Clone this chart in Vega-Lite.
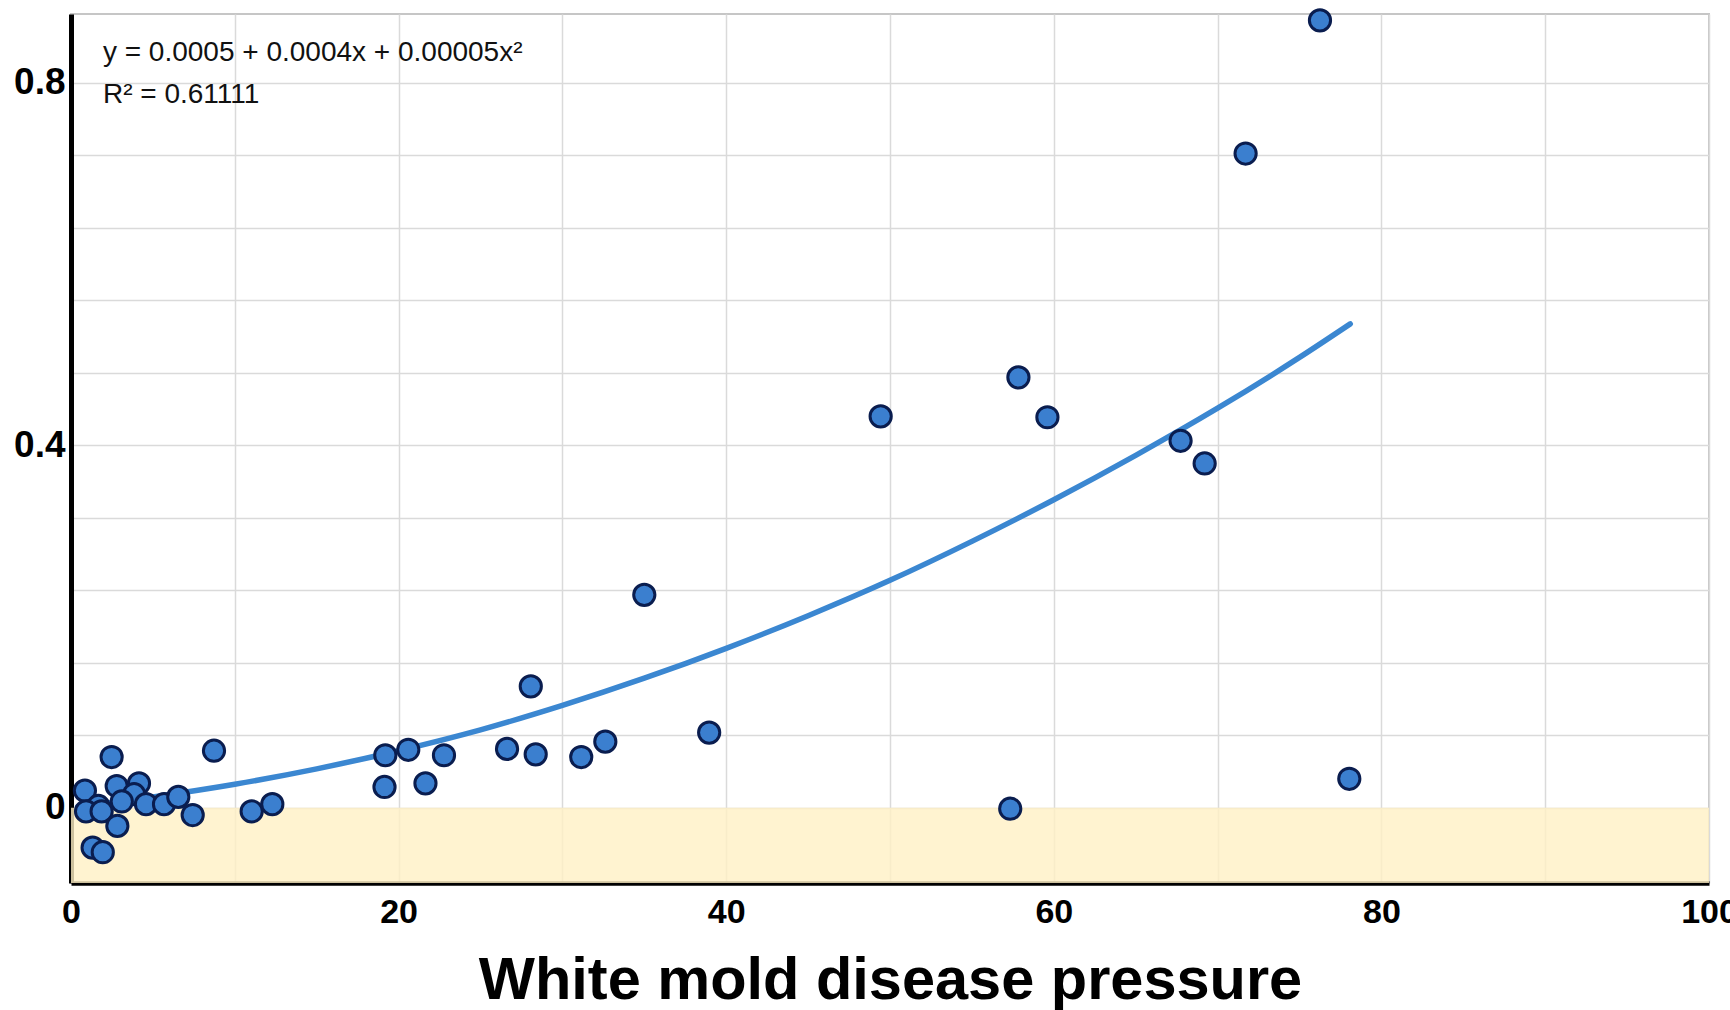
{
  "$schema": "https://vega.github.io/schema/vega-lite/v6.json",
  "width": 1638,
  "height": 869,
  "autosize": {"type": "none"},
  "padding": {"left": 71, "top": 14, "right": 21, "bottom": 127},
  "background": "white",
  "config": {"view": {"stroke": "#c6c6c6", "strokeWidth": 2}, "font": "Liberation Sans"},
  "datasets": {
    "band": [{"x": 0, "x2": 100, "y": -0.083, "y2": 0}],
    "points": [
      {"x": 0.85, "y": 0.019}, {"x": 2.48, "y": 0.056}, {"x": 8.73, "y": 0.063}, {"x": 2.79, "y": 0.024},
      {"x": 4.15, "y": 0.027}, {"x": 3.85, "y": 0.015}, {"x": 3.10, "y": 0.007}, {"x": 1.67, "y": 0.002},
      {"x": 0.92, "y": -0.004}, {"x": 1.87, "y": -0.004}, {"x": 4.58, "y": 0.004}, {"x": 5.68, "y": 0.004},
      {"x": 6.55, "y": 0.012}, {"x": 7.43, "y": -0.008}, {"x": 2.83, "y": -0.020}, {"x": 1.32, "y": -0.044},
      {"x": 1.94, "y": -0.049}, {"x": 11.03, "y": -0.004}, {"x": 12.29, "y": 0.004},
      {"x": 19.19, "y": 0.058}, {"x": 20.59, "y": 0.064}, {"x": 22.77, "y": 0.058}, {"x": 19.14, "y": 0.023},
      {"x": 21.64, "y": 0.027}, {"x": 26.62, "y": 0.065}, {"x": 28.37, "y": 0.059}, {"x": 28.07, "y": 0.134},
      {"x": 31.15, "y": 0.056}, {"x": 32.62, "y": 0.073}, {"x": 35.0, "y": 0.235}, {"x": 38.96, "y": 0.083},
      {"x": 49.43, "y": 0.432}, {"x": 57.34, "y": -0.001}, {"x": 57.84, "y": 0.475}, {"x": 59.61, "y": 0.431},
      {"x": 67.74, "y": 0.405}, {"x": 69.21, "y": 0.380}, {"x": 71.71, "y": 0.722}, {"x": 76.25, "y": 0.869},
      {"x": 78.04, "y": 0.032}
    ],
    "curve": [
      {"x": 0.4, "y": 0.001}, {"x": 5, "y": 0.012}, {"x": 10, "y": 0.026}, {"x": 15, "y": 0.043},
      {"x": 20, "y": 0.063}, {"x": 25, "y": 0.086}, {"x": 30, "y": 0.113}, {"x": 35, "y": 0.143},
      {"x": 40, "y": 0.176}, {"x": 45, "y": 0.212}, {"x": 50, "y": 0.251}, {"x": 55, "y": 0.294},
      {"x": 60, "y": 0.340}, {"x": 65, "y": 0.389}, {"x": 70, "y": 0.441}, {"x": 75, "y": 0.497},
      {"x": 78.1, "y": 0.534}
    ],
    "notes": [
      {"x": 1.95, "y": 0.824, "label": "y = 0.0005 + 0.0004x + 0.00005x²"},
      {"x": 1.95, "y": 0.778, "label": "R² = 0.61111"}
    ]
  },
  "encoding": {
    "x": {
      "field": "x", "type": "quantitative",
      "scale": {"domain": [0, 100], "nice": false, "zero": false},
      "axis": {
        "title": "White mold disease pressure",
        "titleFont": "Liberation Sans", "titleFontSize": 59.5, "titleFontWeight": "bold", "titleColor": "#000",
        "titleY": 115, "titleBaseline": "alphabetic",
        "values": [0, 10, 20, 30, 40, 50, 60, 70, 80, 90, 100],
        "labelExpr": "datum.value % 20 === 0 ? datum.label : ''",
        "labelFont": "Liberation Sans", "labelFontSize": 34, "labelFontWeight": "bold", "labelColor": "#000",
        "labelPadding": 12, "labelOverlap": false, "labelBound": false, "labelFlush": false,
        "ticks": false, "domainColor": "#000", "domainWidth": 4.5,
        "gridColor": "#dadada", "gridWidth": 1.5
      }
    },
    "y": {
      "field": "y", "type": "quantitative",
      "scale": {"domain": [-0.083, 0.876], "nice": false, "zero": false},
      "axis": {
        "title": null,
        "values": [0, 0.08, 0.16, 0.24, 0.32, 0.4, 0.48, 0.56, 0.64, 0.72, 0.8],
        "labelExpr": "datum.value === 0 ? '0' : datum.value === 0.4 ? '0.4' : datum.value === 0.8 ? '0.8' : ''",
        "labelFont": "Liberation Sans", "labelFontSize": 37, "labelFontWeight": "bold", "labelColor": "#000",
        "labelPadding": 6, "labelOverlap": false, "labelBound": false, "labelFlush": false,
        "ticks": false, "domainColor": "#000", "domainWidth": 5,
        "gridColor": "#dadada", "gridWidth": 1.5
      }
    }
  },
  "layer": [
    {
      "data": {"name": "band"},
      "mark": {"type": "rect", "color": "#fff0c4", "opacity": 0.8, "clip": true},
      "encoding": {
        "x2": {"field": "x2"},
        "y2": {"field": "y2"}
      }
    },
    {
      "data": {"name": "curve"},
      "mark": {"type": "line", "color": "#3b87d1", "strokeWidth": 5.5, "strokeCap": "round", "interpolate": "monotone"}
    },
    {
      "data": {"name": "points"},
      "mark": {"type": "circle", "size": 450, "fill": "#3b7fcf", "stroke": "#0a1d4f", "strokeWidth": 3, "opacity": 1, "fillOpacity": 1, "strokeOpacity": 1}
    },
    {
      "data": {"name": "notes"},
      "mark": {"type": "text", "align": "left", "baseline": "alphabetic", "font": "Liberation Sans", "fontSize": 28, "color": "#111"},
      "encoding": {"text": {"field": "label"}}
    }
  ]
}
